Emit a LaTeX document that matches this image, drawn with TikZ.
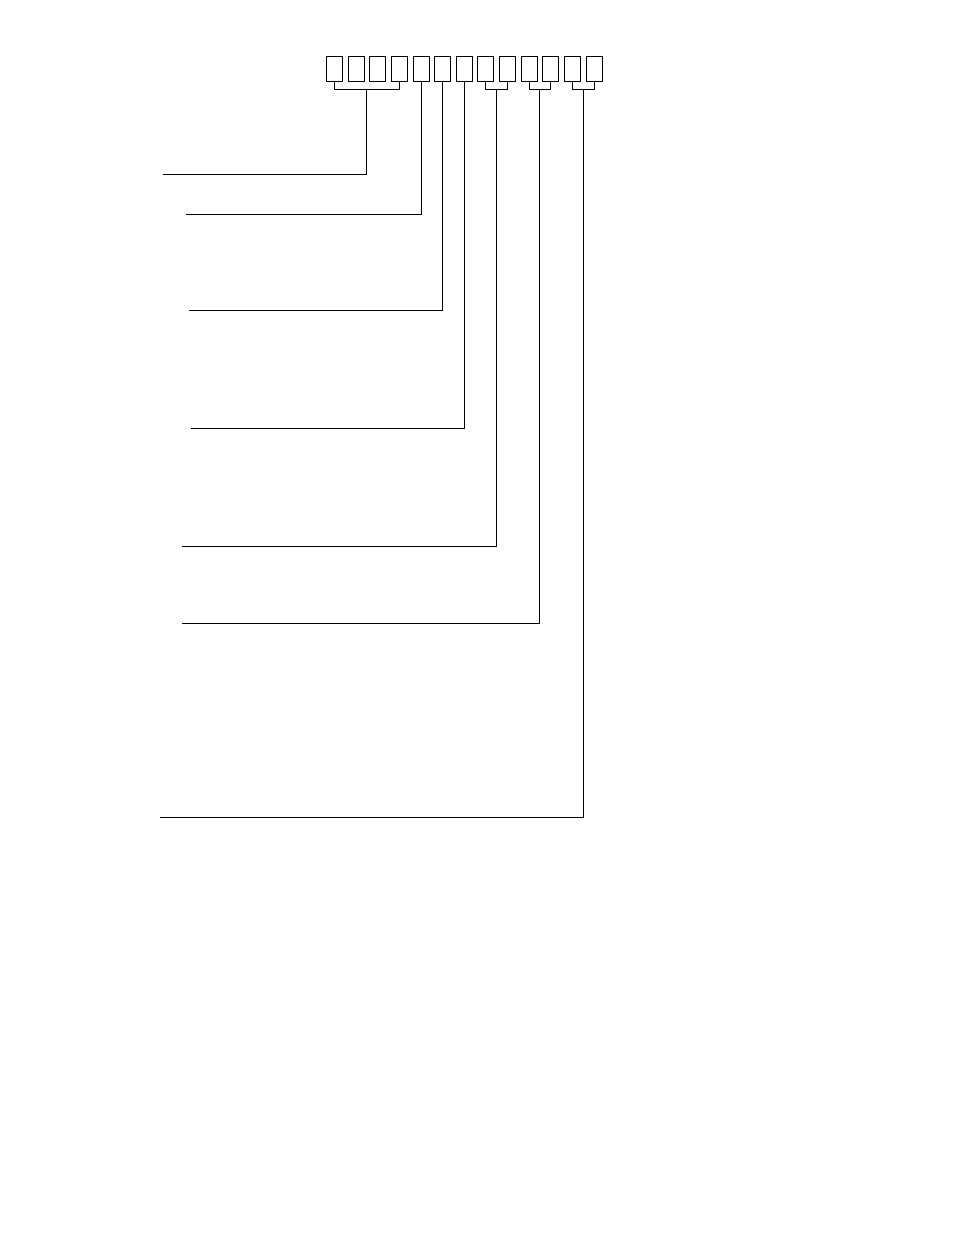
\documentclass[tikz,border=0pt]{standalone}
\usetikzlibrary{calc}
\begin{document}
\begin{tikzpicture}[x=1pt,y=-1pt,
  cell/.style={draw, rectangle, minimum width=16pt, minimum height=25pt, inner sep=0pt, line width=1pt},
  wire/.style={line width=1pt}]
\useasboundingbox (0,0) rectangle (954,1235);
\fill[white] (0,0) rectangle (954,1235);
\foreach \i in {1,...,13}
  \node[cell] (b\i) at ({334.5+21.63*(\i-1)},69) {};
% bracket groups
\draw[wire] (b1.south) -- ++(0,7) -| (b4.south);
\draw[wire] (b8.south) -- ++(0,7) -| (b9.south);
\draw[wire] (b10.south) -- ++(0,7) -| (b11.south);
\draw[wire] (b12.south) -- ++(0,7) -| (b13.south);
\coordinate (g1) at ($($(b1.south)!0.5!(b4.south)$)+(0,7)$);
\coordinate (g2) at ($($(b8.south)!0.5!(b9.south)$)+(0,7)$);
\coordinate (g3) at ($($(b10.south)!0.5!(b11.south)$)+(0,7)$);
\coordinate (g4) at ($($(b12.south)!0.5!(b13.south)$)+(0,7)$);
% free ends
\coordinate (e1) at (163,174);
\coordinate (e2) at (186,214);
\coordinate (e3) at (189,310);
\coordinate (e4) at (191,428);
\coordinate (e5) at (182,546);
\coordinate (e6) at (182,623);
\coordinate (e7) at (160,817);
% leaders
\draw[wire] (g1) |- (e1);
\draw[wire] (b5.south) |- (e2);
\draw[wire] (b6.south) |- (e3);
\draw[wire] (b7.south) |- (e4);
\draw[wire] (g2) |- (e5);
\draw[wire] (g3) |- (e6);
\draw[wire] (g4) |- (e7);
\end{tikzpicture}
\end{document}
